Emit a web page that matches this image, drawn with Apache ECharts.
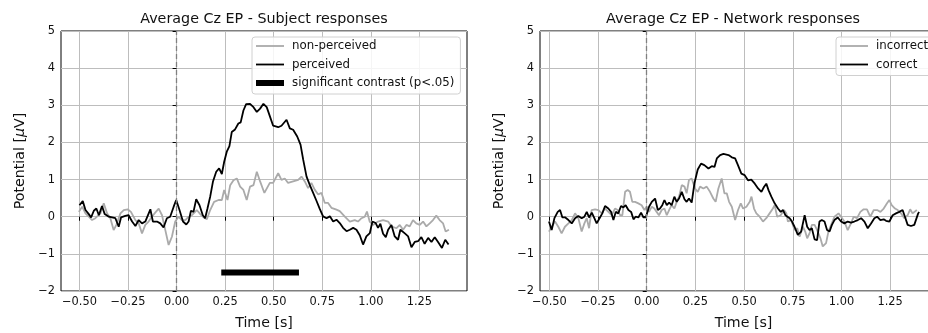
<!DOCTYPE html>
<html><head><meta charset="utf-8">
<script src="https://cdn.jsdelivr.net/npm/echarts@6/dist/echarts.min.js"></script>
<style>html,body{margin:0;padding:0;background:#fff}#c{width:928px;height:333px}</style>
</head><body><div id="c"></div>
<script>
// ---- tick labels ----
const xTicks = [-0.5, -0.25, 0, 0.25, 0.5, 0.75, 1.0, 1.25];

// ---- Subject responses: perceived (black) ----
const perT = [-0.50,-0.483,-0.469,-0.452,-0.44,-0.426,-0.413,-0.40,-0.384,-0.37,-0.349,-0.332,-0.315,-0.298,-0.286,-0.264,-0.247,-0.229,-0.212,-0.195,-0.178,-0.161,-0.135,-0.122,-0.101,-0.084,-0.067,-0.05,-0.033,-0.015,-0.002,0.015,0.033,0.05,0.062,0.074,0.087,0.101,0.118,0.135,0.147,0.159,0.173,0.187,0.204,0.219,0.233,0.245,0.259,0.272,0.284,0.301,0.318,0.33,0.344,0.358,0.378,0.396,0.413,0.43,0.447,0.464,0.472,0.497,0.523,0.540,0.566,0.583,0.600,0.621,0.638,0.652,0.669,0.686,0.703,0.72,0.737,0.754,0.772,0.789,0.806,0.823,0.84,0.857,0.875,0.892,0.909,0.926,0.943,0.96,0.977,0.995,1.008,1.025,1.037,1.049,1.063,1.077,1.089,1.106,1.123,1.14,1.152,1.175,1.192,1.209,1.226,1.243,1.26,1.277,1.295,1.312,1.329,1.346,1.366,1.383,1.40];
const perV = [0.31,0.42,0.18,0.07,-0.02,0.16,0.22,0.04,0.29,0.07,0.0,-0.02,-0.04,-0.27,-0.02,0.02,0.04,-0.13,-0.25,-0.09,-0.18,-0.13,0.20,-0.13,-0.13,-0.18,-0.29,-0.04,0.0,0.27,0.45,0.18,-0.13,-0.21,-0.13,0.16,0.13,0.47,0.31,0.04,-0.04,0.22,0.54,0.94,1.21,1.30,1.15,1.48,1.76,1.90,2.28,2.35,2.51,2.54,2.86,3.03,3.04,2.95,2.82,2.91,3.04,2.95,2.83,2.45,2.41,2.45,2.61,2.38,2.34,2.16,1.94,1.53,1.08,0.85,0.64,0.43,0.21,0.01,-0.04,0.01,-0.13,-0.08,-0.17,-0.30,-0.39,-0.35,-0.30,-0.35,-0.50,-0.75,-0.53,-0.44,-0.13,-0.17,-0.30,-0.19,-0.46,-0.55,-0.35,-0.22,-0.53,-0.62,-0.35,-0.45,-0.53,-0.82,-0.68,-0.66,-0.55,-0.73,-0.57,-0.68,-0.55,-0.68,-0.84,-0.62,-0.75];

// ---- Subject responses: non-perceived (gray) ----
const nonT = [-0.503,-0.486,-0.469,-0.452,-0.435,-0.418,-0.392,-0.375,-0.358,-0.341,-0.324,-0.31,-0.289,-0.272,-0.252,-0.235,-0.212,-0.195,-0.178,-0.161,-0.144,-0.127,-0.11,-0.092,-0.075,-0.058,-0.041,-0.024,-0.007,0.01,0.027,0.045,0.062,0.079,0.104,0.122,0.139,0.156,0.173,0.193,0.216,0.233,0.245,0.262,0.276,0.293,0.31,0.327,0.344,0.361,0.378,0.396,0.413,0.43,0.452,0.48,0.497,0.523,0.54,0.557,0.574,0.6,0.626,0.643,0.66,0.677,0.694,0.711,0.729,0.746,0.763,0.78,0.797,0.823,0.84,0.866,0.892,0.917,0.934,0.952,0.969,0.98,0.994,1.011,1.037,1.063,1.089,1.106,1.132,1.149,1.166,1.183,1.2,1.217,1.234,1.252,1.269,1.286,1.303,1.32,1.337,1.354,1.372,1.385,1.402];
const nonV = [0.13,0.27,0.09,0.0,-0.09,-0.04,0.09,0.36,0.09,-0.04,-0.36,-0.22,0.09,0.18,0.2,0.13,-0.09,-0.18,-0.45,-0.22,-0.13,0.0,0.11,0.22,0.04,-0.36,-0.76,-0.54,-0.13,0.0,-0.09,-0.09,0.0,0.04,0.18,0.07,-0.02,-0.07,0.18,0.40,0.45,0.45,0.72,0.45,0.85,0.98,1.03,0.81,0.72,0.45,0.81,0.85,1.21,0.95,0.64,0.91,0.91,1.17,0.99,1.03,0.91,0.95,0.99,1.08,0.95,0.77,0.91,0.73,0.60,0.64,0.37,0.37,0.24,0.19,0.15,0.0,-0.13,-0.09,-0.13,-0.04,0.0,0.14,-0.13,-0.22,-0.13,-0.09,-0.13,-0.26,-0.31,-0.22,-0.35,-0.22,-0.26,-0.09,-0.18,-0.22,-0.13,-0.26,-0.18,-0.09,0.03,-0.09,-0.18,-0.40,-0.35];

// ---- significant contrast bar ----
const sigT = [0.23, 0.63];
const sigV = [-1.5, -1.5];

// ---- Network responses: correct (black) ----
const corT = [-0.502,-0.488,-0.474,-0.457,-0.445,-0.433,-0.418,-0.402,-0.385,-0.368,-0.351,-0.334,-0.32,-0.308,-0.296,-0.282,-0.269,-0.257,-0.24,-0.228,-0.214,-0.197,-0.183,-0.171,-0.159,-0.146,-0.132,-0.12,-0.108,-0.094,-0.08,-0.068,-0.057,-0.043,-0.029,-0.017,-0.005,0.0,0.012,0.026,0.043,0.057,0.068,0.08,0.091,0.103,0.115,0.128,0.142,0.154,0.166,0.18,0.194,0.205,0.217,0.231,0.245,0.262,0.279,0.296,0.317,0.334,0.348,0.36,0.377,0.394,0.42,0.437,0.454,0.469,0.486,0.503,0.52,0.537,0.555,0.572,0.589,0.602,0.614,0.626,0.64,0.657,0.674,0.688,0.70,0.712,0.722,0.734,0.746,0.759,0.776,0.793,0.811,0.824,0.836,0.848,0.862,0.875,0.887,0.899,0.913,0.926,0.939,0.951,0.964,0.981,0.998,1.015,1.032,1.049,1.066,1.084,1.101,1.118,1.135,1.152,1.169,1.183,1.2,1.217,1.229,1.246,1.263,1.28,1.297,1.314,1.326,1.34,1.357,1.374,1.382,1.394,1.399];
const corV = [-0.13,-0.36,-0.04,0.13,0.18,-0.02,-0.02,-0.09,-0.18,-0.04,0.02,-0.04,0.0,0.13,-0.02,0.11,-0.04,-0.18,-0.02,0.09,0.29,0.22,0.13,-0.09,0.13,0.09,0.29,0.25,0.31,0.18,0.13,-0.07,0.0,-0.02,0.11,-0.02,-0.02,-0.04,0.27,0.40,0.49,0.18,0.22,0.31,0.45,0.31,0.38,0.31,0.54,0.40,0.49,0.67,0.47,0.40,0.49,0.38,0.90,1.27,1.43,1.39,1.30,1.36,1.34,1.57,1.66,1.69,1.66,1.60,1.57,1.38,1.16,1.12,0.98,1.0,0.89,0.76,0.67,0.80,0.89,0.71,0.54,0.36,0.22,0.13,0.18,0.04,0.0,-0.04,-0.13,-0.27,-0.49,-0.40,0.04,-0.27,-0.36,-0.31,-0.61,-0.63,-0.13,-0.09,-0.13,-0.36,-0.40,-0.22,-0.09,-0.02,-0.13,-0.18,-0.13,-0.16,-0.13,-0.09,-0.04,-0.13,-0.31,-0.18,-0.04,0.0,-0.09,-0.07,-0.11,-0.13,0.04,0.09,0.13,0.18,0.0,-0.22,-0.25,-0.22,-0.22,0.09,0.13];

// ---- Network responses: incorrect (gray) ----
const incT = [-0.502,-0.488,-0.471,-0.454,-0.437,-0.42,-0.402,-0.385,-0.368,-0.351,-0.334,-0.32,-0.308,-0.296,-0.283,-0.265,-0.248,-0.231,-0.214,-0.197,-0.18,-0.163,-0.149,-0.137,-0.125,-0.111,-0.098,-0.086,-0.074,-0.06,-0.043,-0.026,-0.012,0.0,0.012,0.026,0.039,0.051,0.063,0.077,0.091,0.103,0.115,0.128,0.142,0.154,0.166,0.18,0.194,0.205,0.217,0.231,0.248,0.262,0.274,0.291,0.308,0.325,0.342,0.354,0.368,0.385,0.399,0.411,0.423,0.437,0.454,0.469,0.483,0.495,0.512,0.529,0.538,0.551,0.563,0.58,0.597,0.614,0.631,0.648,0.657,0.67,0.688,0.705,0.717,0.725,0.742,0.759,0.773,0.785,0.802,0.814,0.824,0.836,0.848,0.862,0.875,0.892,0.904,0.921,0.933,0.947,0.964,0.985,0.998,1.015,1.032,1.049,1.063,1.08,1.097,1.114,1.131,1.148,1.166,1.183,1.2,1.217,1.234,1.246,1.258,1.275,1.289,1.306,1.323,1.34,1.353,1.365,1.374,1.387];
const incV = [-0.40,-0.27,-0.13,-0.27,-0.45,-0.27,-0.18,-0.09,0.09,-0.04,-0.40,-0.18,-0.04,-0.31,0.18,0.20,0.18,0.09,0.22,0.13,0.04,0.22,0.18,0.04,0.04,0.67,0.72,0.67,0.40,0.40,0.36,0.31,0.18,0.27,0.13,0.27,0.22,0.13,0.04,0.18,0.22,0.04,0.18,0.31,0.22,0.40,0.54,0.85,0.81,0.63,0.99,1.03,0.76,0.67,0.81,0.76,0.81,0.67,0.49,0.40,0.76,1.03,0.63,0.63,0.40,0.27,-0.09,0.18,0.36,0.22,0.27,0.40,0.54,0.22,0.09,0.0,-0.13,-0.04,0.09,0.22,0.31,0.0,0.04,0.18,0.09,-0.13,-0.09,-0.36,-0.31,-0.54,-0.27,-0.40,-0.58,-0.45,-0.22,-0.22,-0.36,-0.58,-0.80,-0.71,-0.40,-0.22,0.0,0.09,0.0,-0.13,-0.36,-0.18,0.0,-0.04,0.13,0.20,0.20,0.0,0.18,0.18,0.13,0.22,0.36,0.45,0.31,0.22,0.18,0.09,-0.04,0.04,0.20,0.09,0.09,0.18];

const zip = (t, v) => t.map((x, i) => [x, v[i]]);
const FONT = 'DejaVu Sans';
const minus = s => String(s).replace('-', '\u2212');

function xAxisCfg(gi, min, max) {
  return {
    type: 'value', gridIndex: gi, min: min, max: max,
    name: 'Time [s]', nameLocation: 'middle', nameGap: 25,
    nameTextStyle: { fontFamily: FONT, fontSize: 14.2, color: '#111' },
    axisLine: { show: false },
    axisTick: { show: true, length: 4, customValues: xTicks, lineStyle: { color: '#000', width: 1 } },
    axisLabel: { customValues: xTicks, fontFamily: FONT, fontSize: 11.4, color: '#111', margin: 6,
      formatter: v => minus(v.toFixed(2)) },
    splitLine: { show: true, lineStyle: { color: '#bdbdbd', width: 1 } }
  };
}
function yAxisCfg(gi) {
  return {
    type: 'value', gridIndex: gi, min: -2, max: 5, interval: 1,
    name: 'Potential [{i|μ}V]', nameLocation: 'middle', nameGap: 34,
    nameTextStyle: { fontFamily: FONT, fontSize: 14.2, color: '#111', rich: { i: { fontStyle: 'italic', fontFamily: FONT, fontSize: 14.2, color: '#111' } } },
    axisLine: { show: false },
    axisTick: { show: true, length: 4, lineStyle: { color: '#000', width: 1 } },
    axisLabel: { fontFamily: FONT, fontSize: 11.4, color: '#111', margin: 6, formatter: v => minus(v) },
    splitLine: { show: true, lineStyle: { color: '#bdbdbd', width: 1 } }
  };
}
const zeroLine = {
  silent: true, symbol: ['none', 'none'], label: { show: false },
  lineStyle: { color: '#808080', type: [5, 3], width: 1.3 },
  data: [{ xAxis: 0 }]
};
function lineSeries(name, gi, data, color, width, extra) {
  return Object.assign({
    name: name, type: 'line', xAxisIndex: gi, yAxisIndex: gi, data: data,
    symbol: 'none', showSymbol: false, color: color,
    lineStyle: { color: color, width: width }, animation: false
  }, extra || {});
}
const thinIcon = 'path://M0 0H28V1.8H0Z';
const thickIcon = 'path://M0 0H28V6H0Z';
const legendBase = {
  orient: 'vertical', itemWidth: 28, itemHeight: 12, itemGap: 6.5,
  backgroundColor: 'rgba(255,255,255,0.85)', borderColor: '#d0d0d0', borderWidth: 1, borderRadius: 3,
  padding: [3, 6, 5, 4], align: 'left',
  textStyle: { fontFamily: FONT, fontSize: 11.8, color: '#111', padding: [0, 0, 0, 3] }
};

const chart = echarts.init(document.getElementById('c'), null, { renderer: 'canvas' });
chart.setOption({
  animation: false,
  backgroundColor: '#fff',
  title: [
    { text: 'Average Cz EP - Subject responses', left: 259, top: 7, textAlign: 'center',
      textStyle: { fontFamily: FONT, fontSize: 14.3, fontWeight: 'normal', color: '#111' } },
    { text: 'Average Cz EP - Network responses', left: 728, top: 7, textAlign: 'center',
      textStyle: { fontFamily: FONT, fontSize: 14.3, fontWeight: 'normal', color: '#111' } }
  ],
  grid: [
    { left: 61, top: 31, width: 406, height: 260, show: true, borderColor: '#000', borderWidth: 1, backgroundColor: 'transparent', outerBoundsMode: 'none', containLabel: false },
    { left: 540, top: 31, width: 407, height: 260, show: true, borderColor: '#000', borderWidth: 1, backgroundColor: 'transparent', outerBoundsMode: 'none', containLabel: false }
  ],
  xAxis: [xAxisCfg(0, -0.595, 1.495), xAxisCfg(1, -0.548, 1.542)],
  yAxis: [yAxisCfg(0), yAxisCfg(1)],
  legend: [
    Object.assign({}, legendBase, { left: 252, top: 37, data: [
      { name: 'non-perceived', icon: thinIcon },
      { name: 'perceived', icon: thinIcon },
      { name: 'significant contrast (p<.05)', icon: thickIcon }] }),
    Object.assign({}, legendBase, { left: 836, top: 37, data: [
      { name: 'incorrect', icon: thinIcon },
      { name: 'correct', icon: thinIcon }] })
  ],
  series: [
    lineSeries('non-perceived', 0, zip(nonT, nonV), '#aaaaaa', 1.8, { markLine: zeroLine }),
    lineSeries('perceived', 0, zip(perT, perV), '#000000', 1.8),
    lineSeries('significant contrast (p<.05)', 0, zip(sigT, sigV), '#000000', 6),
    lineSeries('incorrect', 1, zip(incT, incV), '#aaaaaa', 1.8, { markLine: zeroLine }),
    lineSeries('correct', 1, zip(corT, corV), '#000000', 1.8)
  ]
});
</script>
</body></html>
